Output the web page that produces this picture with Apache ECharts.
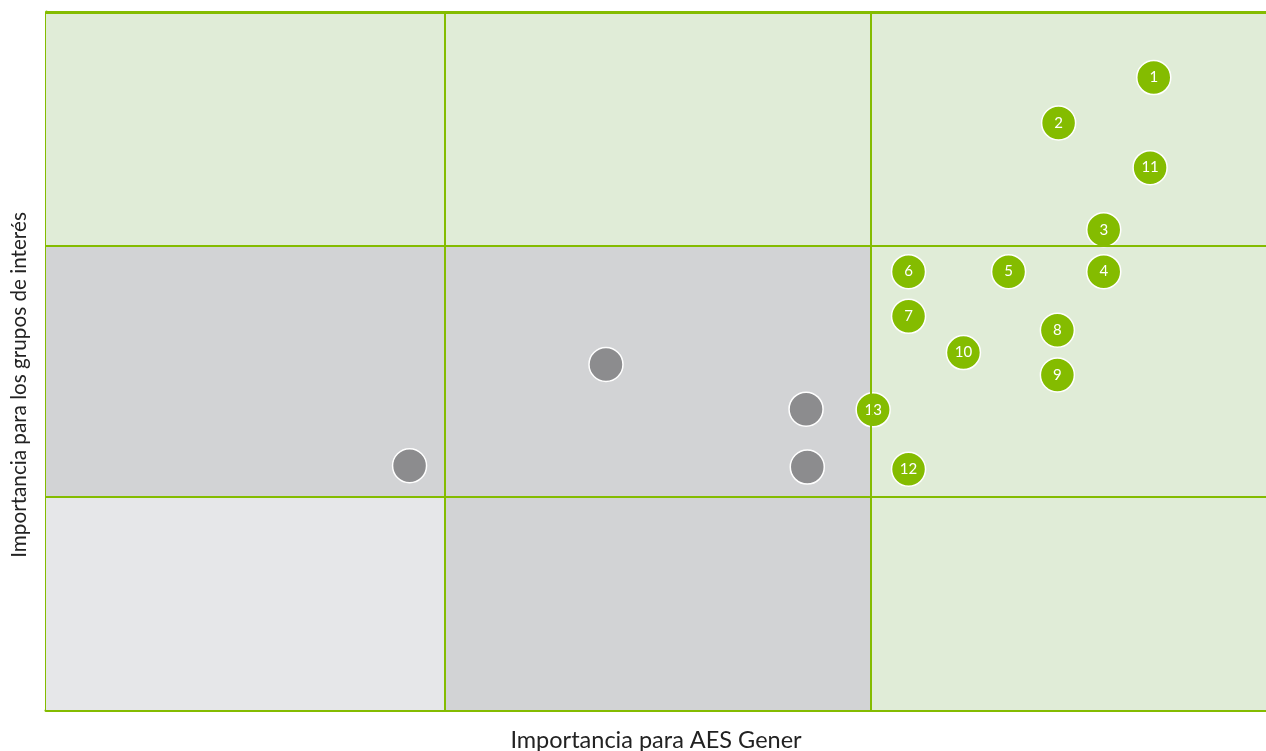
<!DOCTYPE html>
<html>
<head>
<meta charset="utf-8">
<script src="https://cdn.jsdelivr.net/npm/echarts@6/dist/echarts.min.js"></script>
<style>
  html, body { margin: 0; padding: 0; background: #fff; }
  #main { width: 1266px; height: 751px; }
</style>
</head>
<body>
<div id="main"></div>
<script>
// numbered topics (green) : x = importancia AES Gener, y = grupos de interés
var topicLabels = ['1', '2', '3', '4', '5', '6', '7', '8', '9', '10', '11', '12', '13'];
var topicX = [90.8, 83.0, 86.7, 86.7, 78.9, 70.7, 70.7, 82.9, 82.9, 75.2, 90.5, 70.7, 67.8];
var topicY = [90.6, 84.1, 68.8, 62.8, 62.8, 62.8, 56.4, 54.4, 48.0, 51.2, 77.7, 34.5, 43.0];

// unnumbered topics (grey)
var otherX = [45.9, 62.3, 29.8, 62.4];
var otherY = [49.5, 43.1, 35.0, 34.8];

// quadrant limits
var xCuts = [32.7, 67.6];
var yCuts = [30.5, 66.5];

var green = '#84bc00';
var cellGreen = '#e0ecd7';
var cellGrey = '#d2d3d5';
var cellLight = '#e6e7e9';

var chartDom = document.getElementById('main');
var myChart = echarts.init(chartDom);

var topicData = topicLabels.map(function (l, i) {
    return { value: [topicX[i], topicY[i]], name: l };
});
var otherData = otherX.map(function (x, i) {
    return [x, otherY[i]];
});

function cell(x0, x1, y0, y1, color) {
    return [{ xAxis: x0, yAxis: y0, itemStyle: { color: color } }, { xAxis: x1, yAxis: y1 }];
}

var option = {
    animation: false,
    grid: { left: 46, right: 0, top: 12, bottom: 41, outerBoundsMode: 'none' },
    xAxis: {
        type: 'value', min: 0, max: 100,
        name: 'Importancia para AES Gener',
        nameLocation: 'middle',
        nameGap: 18,
        nameTextStyle: { fontFamily: 'Lato', fontSize: 23.5, color: '#222' },
        axisLine: { show: true, lineStyle: { color: green, width: 3 } },
        axisTick: { show: false }, axisLabel: { show: false }, splitLine: { show: false }
    },
    yAxis: {
        type: 'value', min: 0, max: 100,
        name: 'Importancia para los grupos de interés',
        nameLocation: 'middle',
        nameGap: 16,
        nameTextStyle: { fontFamily: 'Lato', fontSize: 20.7, color: '#222', padding: [0, 48, 0, 0] },
        axisLine: { show: true, lineStyle: { color: green, width: 3 } },
        axisTick: { show: false }, axisLabel: { show: false }, splitLine: { show: false }
    },
    series: [{
        type: 'scatter',
        data: otherData,
        symbolSize: 34,
        itemStyle: { color: '#8c8c8e', borderColor: '#fff', borderWidth: 1.5, opacity: 1 },
        z: 3,
        markArea: {
            silent: true,
            data: [
                cell(0, xCuts[0], yCuts[1], 100, cellGreen),
                cell(xCuts[0], xCuts[1], yCuts[1], 100, cellGreen),
                cell(xCuts[1], 100, yCuts[1], 100, cellGreen),
                cell(0, xCuts[0], yCuts[0], yCuts[1], cellGrey),
                cell(xCuts[0], xCuts[1], yCuts[0], yCuts[1], cellGrey),
                cell(xCuts[1], 100, yCuts[0], yCuts[1], cellGreen),
                cell(0, xCuts[0], 0, yCuts[0], cellLight),
                cell(xCuts[0], xCuts[1], 0, yCuts[0], cellGrey),
                cell(xCuts[1], 100, 0, yCuts[0], cellGreen)
            ]
        },
        markLine: {
            silent: true,
            symbol: 'none',
            label: { show: false },
            lineStyle: { color: green, width: 2, type: 'solid' },
            data: [
                { xAxis: xCuts[0] }, { xAxis: xCuts[1] },
                { yAxis: yCuts[0] }, { yAxis: yCuts[1] },
                { yAxis: 100, lineStyle: { width: 3 } }
            ]
        }
    }, {
        type: 'scatter',
        data: topicData,
        symbolSize: 34,
        z: 4,
        itemStyle: { color: green, borderColor: '#fff', borderWidth: 1.5, opacity: 1 },
        label: {
            show: true,
            position: 'inside',
            formatter: '{b}',
            color: '#fff',
            fontFamily: 'Lato',
            fontSize: 15
        }
    }]
};

option && myChart.setOption(option);
</script>
</body>
</html>
